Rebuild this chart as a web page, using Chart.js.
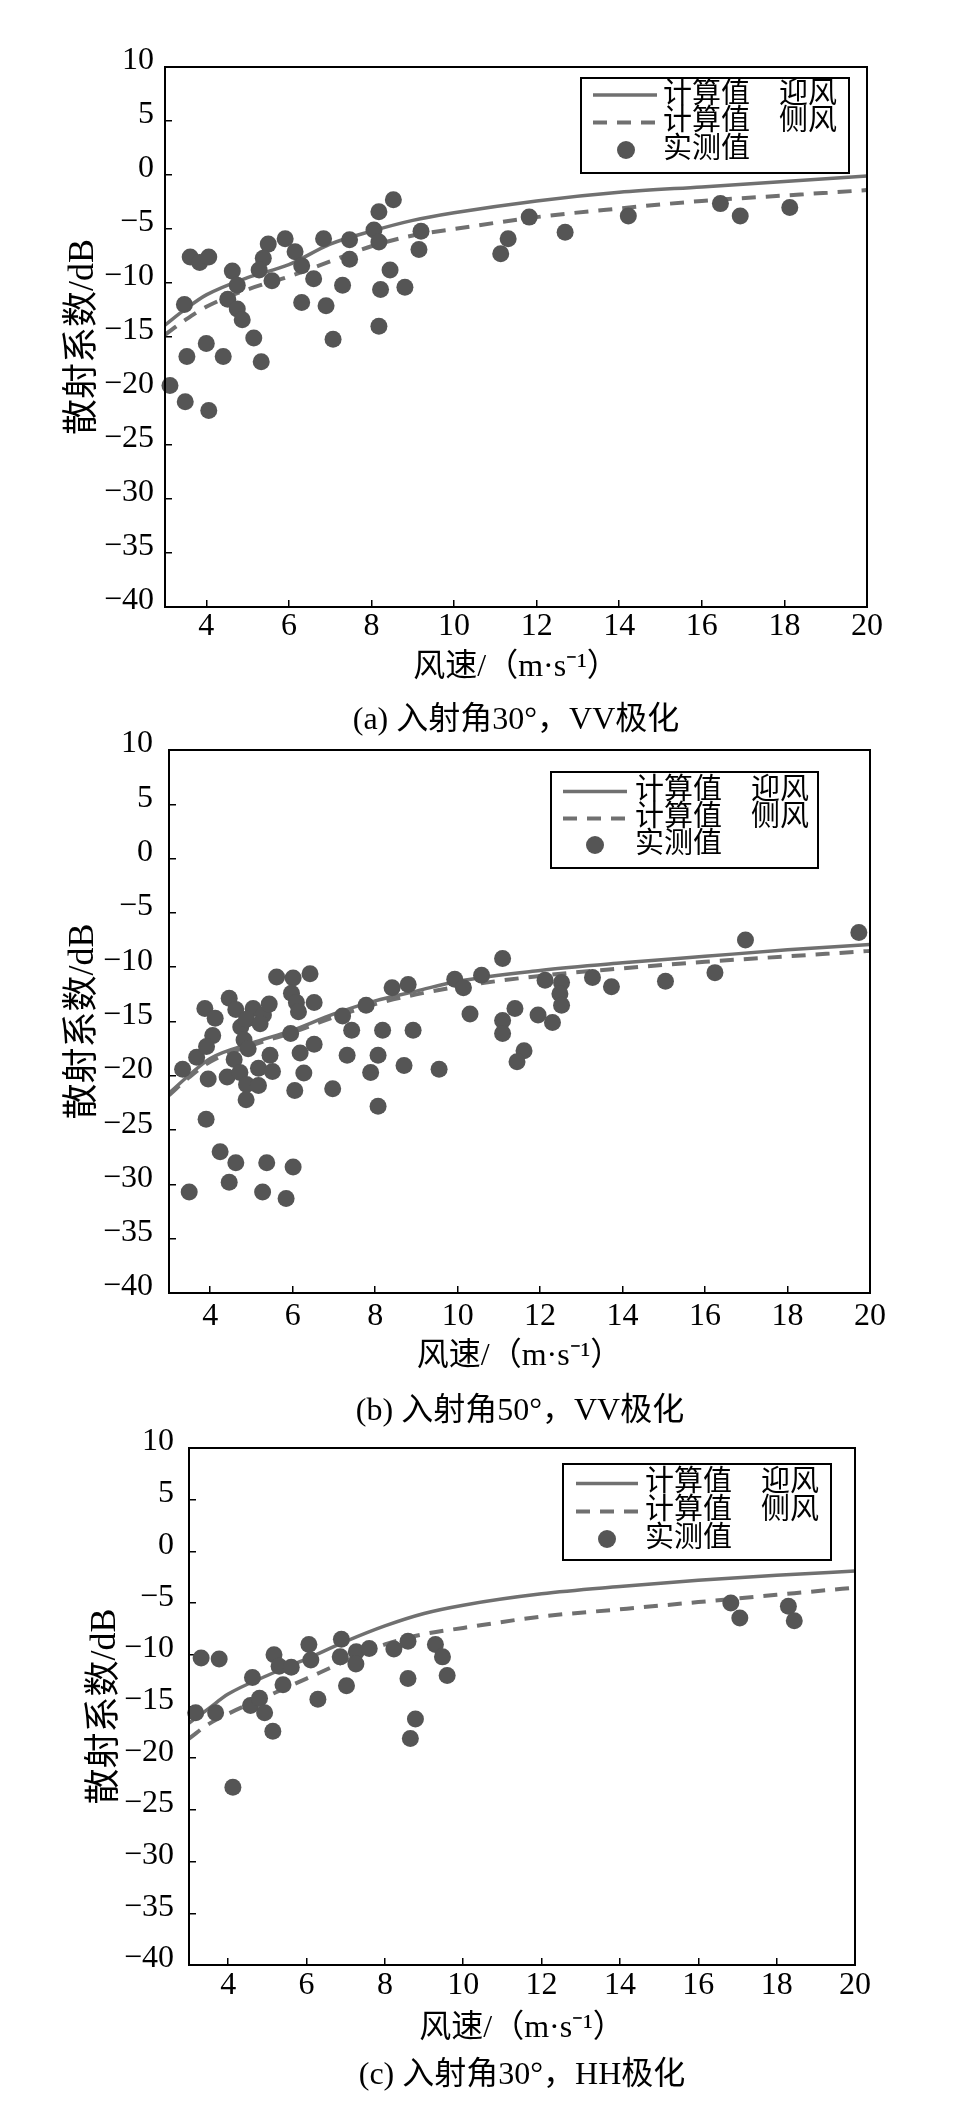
<!DOCTYPE html>
<html>
<head>
<meta charset="utf-8">
<script src="https://cdn.jsdelivr.net/npm/chart.js@4.4.1/dist/chart.umd.min.js"></script>
<style>
  html, body { margin: 0; padding: 0; background: #fff; }
  body { width: 964px; height: 2123px; position: relative; overflow: hidden; }
  .panel { position: absolute; left: 0; width: 964px; }
  .caption {
    position: absolute; transform: translate(-50%, -50%); white-space: nowrap;
    font: 32px "Liberation Serif", "Noto Sans CJK SC", serif; color: #000;
  }
</style>
</head>
<body>
<div class="panel" style="top:0;height:690px"><canvas id="chartA"></canvas></div>
<div class="panel" style="top:700px;height:680px"><canvas id="chartB"></canvas></div>
<div class="panel" style="top:1400px;height:650px"><canvas id="chartC"></canvas></div>
<div class="caption" style="left:516px;top:715px">(a) 入射角30°，VV极化</div>
<div class="caption" style="left:520px;top:1406px">(b) 入射角50°，VV极化</div>
<div class="caption" style="left:522px;top:2070px">(c) 入射角30°，HH极化</div>
<script>
// tick labels
const xTicks = [4, 6, 8, 10, 12, 14, 16, 18, 20];
const yTicks = [10, 5, 0, -5, -10, -15, -20, -25, -30, -35, -40];

// model curves (wind speed m/s -> dB)
const curveSpeed = [3, 3.5, 4, 5, 6, 7, 8, 9, 10, 12, 14, 16, 18, 20];
const aUpwind = [-13.9, -12.4, -11.1, -9.5, -8.3, -6.4, -5.2, -4.2, -3.5, -2.4, -1.6, -1.1, -0.6, -0.1];
const aCross = [-14.8, -13.4, -12.2, -10.6, -9.4, -8.0, -6.6, -5.6, -5.0, -3.9, -3.1, -2.4, -1.9, -1.4];
const bUpwind = [-21.6, -19.9, -18.4, -17.0, -15.8, -14.3, -13.1, -12.2, -11.3, -10.3, -9.6, -9.0, -8.4, -7.9];
const bCross = [-21.8, -20.1, -18.7, -17.2, -16.0, -14.6, -13.4, -12.5, -11.8, -10.8, -10.1, -9.5, -9.0, -8.5];
const cUpwind = [-16.6, -15.2, -13.8, -12.0, -10.4, -8.7, -7.2, -6.0, -5.2, -4.1, -3.4, -2.8, -2.3, -1.9];
const cCross = [-18.1, -16.7, -15.7, -14.0, -12.3, -10.6, -9.0, -8.0, -7.4, -6.3, -5.6, -4.9, -4.2, -3.5];

// measured values
const aSpeed = [3.12, 3.49, 4.06, 3.53, 4.0, 4.41, 5.15, 5.33, 3.47, 3.61, 3.84, 4.06, 4.63, 4.75, 4.52, 4.75,
  4.87, 5.5, 5.38, 5.28, 5.59, 5.91, 6.15, 6.31, 6.6, 6.31, 6.84, 6.9, 7.07, 7.3, 7.47, 7.47, 8.06, 8.18,
  8.18, 8.53, 8.45, 8.22, 8.18, 8.81, 9.2, 9.15, 11.13, 11.31, 11.82, 12.69, 14.22, 16.45, 16.93, 18.13];
const aSigma = [-19.5, -21.0, -21.8, -16.8, -15.6, -16.8, -15.1, -17.3, -12.0, -7.6, -8.1, -7.6, -8.9, -10.2, -11.5, -12.4,
  -13.4, -6.4, -7.7, -8.8, -9.8, -5.9, -7.1, -8.4, -9.6, -11.8, -5.9, -12.1, -15.2, -10.2, -6.0, -7.8, -5.1, -3.4,
  -6.2, -2.3, -8.8, -10.6, -14.0, -10.4, -5.2, -6.9, -7.3, -5.9, -3.9, -5.3, -3.8, -2.65, -3.8, -3.0];

const bSpeed = [3.33, 3.67, 3.87, 4.12, 4.06, 3.91, 3.95, 3.9, 4.24, 4.62, 4.46, 3.49, 5.27, 5.84, 5.37, 6.01,
  4.46, 4.62, 5.04, 5.29, 5.43, 4.74, 4.88, 5.21, 4.82, 4.92, 4.58, 4.41, 4.72, 5.17, 4.88, 5.17, 4.87, 5.45,
  5.51, 5.61, 6.01, 6.42, 5.97, 6.09, 6.14, 6.52, 5.95, 6.18, 6.52, 6.27, 6.05, 6.97, 7.21, 7.43, 7.32, 7.78,
  7.89, 8.07, 8.18, 8.07, 8.41, 8.8, 8.92, 8.7, 9.55, 9.93, 10.14, 10.3, 10.58, 11.09, 11.39, 11.09, 11.09,
  11.61, 11.44, 11.95, 12.3, 12.12, 12.52, 12.48, 12.52, 13.27, 13.73, 15.04, 16.24, 16.98, 19.73];
const bSigma = [-19.4, -18.3, -13.8, -14.7, -16.3, -17.3, -20.3, -24.0, -27.0, -28.0, -29.8, -30.7, -30.7, -31.3, -28.0, -28.4,
  -12.85, -13.9, -13.8, -14.4, -13.4, -15.5, -14.8, -15.2, -16.7, -17.5, -18.5, -20.1, -19.7, -19.3, -20.8, -20.9, -22.2, -18.1,
  -19.6, -10.9, -11.0, -10.6, -12.4, -13.25, -14.1, -13.25, -16.1, -17.9, -17.1, -19.75, -21.35, -21.2, -14.5, -15.8, -18.1, -13.5,
  -19.7, -18.1, -15.8, -22.8, -11.9, -11.6, -15.8, -19.05, -19.4, -11.1, -11.9, -14.3, -10.75, -9.2, -13.8, -14.9, -16.1,
  -17.7, -18.7, -14.4, -15.1, -11.2, -11.4, -12.45, -13.5, -10.95, -11.8, -11.3, -10.5, -7.5, -6.8];

const cSpeed = [3.31, 3.77, 3.17, 3.68, 4.12, 4.62, 4.57, 4.8, 4.93, 5.14, 5.17, 5.3, 5.61, 5.4, 6.06, 6.11, 6.29,
  6.89, 6.86, 7.27, 7.26, 7.6, 7.02, 8.23, 8.59, 8.59, 8.78, 8.65, 9.29, 9.47, 9.59, 16.83, 17.06, 18.3, 18.45];
const cSigma = [-10.3, -10.4, -15.6, -15.6, -22.8, -12.2, -14.9, -14.2, -15.6, -17.4, -10.0, -11.1, -11.2, -12.9, -9.0, -10.5, -14.3,
  -8.5, -10.2, -9.7, -10.9, -9.4, -13.0, -9.45, -8.7, -12.3, -16.2, -18.1, -9.0, -10.2, -12.0, -5.0, -6.45, -5.3, -6.7];

const seriesNames = ['计算值\u3000迎风', '计算值\u3000侧风', '实测值'];

const lineGray = '#707070';
const dotGray = '#555555';

Chart.defaults.font.family = '"Liberation Serif", "Noto Sans CJK SC", serif';
Chart.defaults.color = '#000';

function toPoints(xs, ys) {
  return xs.map((x, i) => ({ x: x, y: ys[i] }));
}

// legend box inside the plot, plus a frame round the plot area
const boxLegend = {
  id: 'boxLegend',
  afterDatasetsDraw(chart, args, o) {
    const ctx = chart.ctx;
    const a = chart.chartArea;
    ctx.save();
    ctx.strokeStyle = '#000';
    ctx.lineWidth = 2;
    ctx.strokeRect(a.left, a.top, a.right - a.left, a.bottom - a.top);
    ctx.strokeRect(o.box[0], o.box[1], o.box[2] - o.box[0], o.box[3] - o.box[1]);
    ctx.font = '29px "Liberation Serif", "Noto Sans CJK SC", serif';
    ctx.textBaseline = 'middle';
    ctx.fillStyle = '#000';
    chart.data.datasets.forEach((ds, i) => {
      const y = o.rows[i];
      if (ds.showLine) {
        ctx.beginPath();
        ctx.strokeStyle = ds.borderColor;
        ctx.lineWidth = ds.borderWidth;
        ctx.setLineDash(ds.borderDash || []);
        ctx.moveTo(o.sample[0], y);
        ctx.lineTo(o.sample[1], y);
        ctx.stroke();
        ctx.setLineDash([]);
      } else {
        ctx.beginPath();
        ctx.fillStyle = ds.backgroundColor;
        ctx.arc(o.markerX, y, 9, 0, Math.PI * 2);
        ctx.fill();
        ctx.fillStyle = '#000';
      }
      ctx.fillText(ds.label, o.textX, y);
    });
    ctx.restore();
  }
};

function makeChart(id, p) {
  const minus = v => String(v).replace('-', '\u2212');
  return new Chart(document.getElementById(id), {
    type: 'scatter',
    data: {
      datasets: [
        {
          label: seriesNames[0], data: toPoints(curveSpeed, p.upwind), showLine: true,
          borderColor: lineGray, borderWidth: 3.5, pointRadius: 0, cubicInterpolationMode: 'monotone', order: 1
        },
        {
          label: seriesNames[1], data: toPoints(curveSpeed, p.cross), showLine: true,
          borderColor: lineGray, borderWidth: 4, borderDash: [14, 10], pointRadius: 0,
          cubicInterpolationMode: 'monotone', order: 2
        },
        {
          label: seriesNames[2], data: toPoints(p.speed, p.sigma), showLine: false,
          backgroundColor: dotGray, pointRadius: 8.5, pointBorderWidth: 0, clip: false, order: 0
        }
      ]
    },
    options: {
      responsive: true,
      maintainAspectRatio: false,
      animation: false,
      layout: { padding: { left: 0, top: p.top, right: 964 - p.right, bottom: 0 } },
      plugins: {
        legend: { display: false },
        tooltip: { enabled: false },
        boxLegend: p.legend
      },
      scales: {
        x: {
          type: 'linear', min: 3, max: 20,
          afterBuildTicks: s => { s.ticks = xTicks.map(v => ({ value: v })); },
          afterFit: s => { s.height = p.xHeight; },
          border: { display: false },
          grid: { drawOnChartArea: false, drawTicks: true, tickLength: -7, tickColor: '#000', lineWidth: 1.5 },
          ticks: { font: { size: 32 }, padding: p.xPad, maxRotation: 0, callback: minus },
          title: {
            display: true, text: '风速/（m·s⁻¹）', font: { size: 32 },
            padding: { top: 0, bottom: p.xTitlePad }
          }
        },
        y: {
          type: 'linear', min: -40, max: 10,
          afterBuildTicks: s => { s.ticks = yTicks.map(v => ({ value: v })); },
          afterFit: s => { s.width = p.left; },
          border: { display: false },
          grid: { drawOnChartArea: false, drawTicks: true, tickLength: -7, tickColor: '#000', lineWidth: 1.5 },
          ticks: { font: { size: 32 }, padding: p.yPad, labelOffset: -6, callback: minus },
          title: {
            display: true, text: '散射系数/dB', font: { size: 36 },
            padding: { top: p.yTitlePad, bottom: 0 }
          }
        }
      }
    },
    plugins: [boxLegend]
  });
}

makeChart('chartA', {
  upwind: aUpwind, cross: aCross, speed: aSpeed, sigma: aSigma,
  left: 165, right: 867, top: 67, xHeight: 690 - 607,
  xPad: 7, yPad: 18, xTitlePad: 3, yTitlePad: 62,
  legend: { box: [581, 78, 849, 173], rows: [95, 122.5, 150], sample: [593, 657], markerX: 626, textX: 663 }
});

makeChart('chartB', {
  upwind: bUpwind, cross: bCross, speed: bSpeed, sigma: bSigma,
  left: 169, right: 870, top: 50, xHeight: 680 - 593,
  xPad: 11, yPad: 23, xTitlePad: 4, yTitlePad: 62,
  legend: { box: [551, 72, 818, 168], rows: [91.5, 118.5, 145], sample: [563, 627], markerX: 595, textX: 635 }
});

makeChart('chartC', {
  upwind: cUpwind, cross: cCross, speed: cSpeed, sigma: cSigma,
  left: 189, right: 855, top: 48, xHeight: 650 - 565,
  xPad: 8, yPad: 22, xTitlePad: 2, yTitlePad: 84,
  legend: { box: [563, 64, 831, 160], rows: [83.5, 111.5, 139], sample: [576, 638], markerX: 607, textX: 645 }
});
</script>
</body>
</html>
